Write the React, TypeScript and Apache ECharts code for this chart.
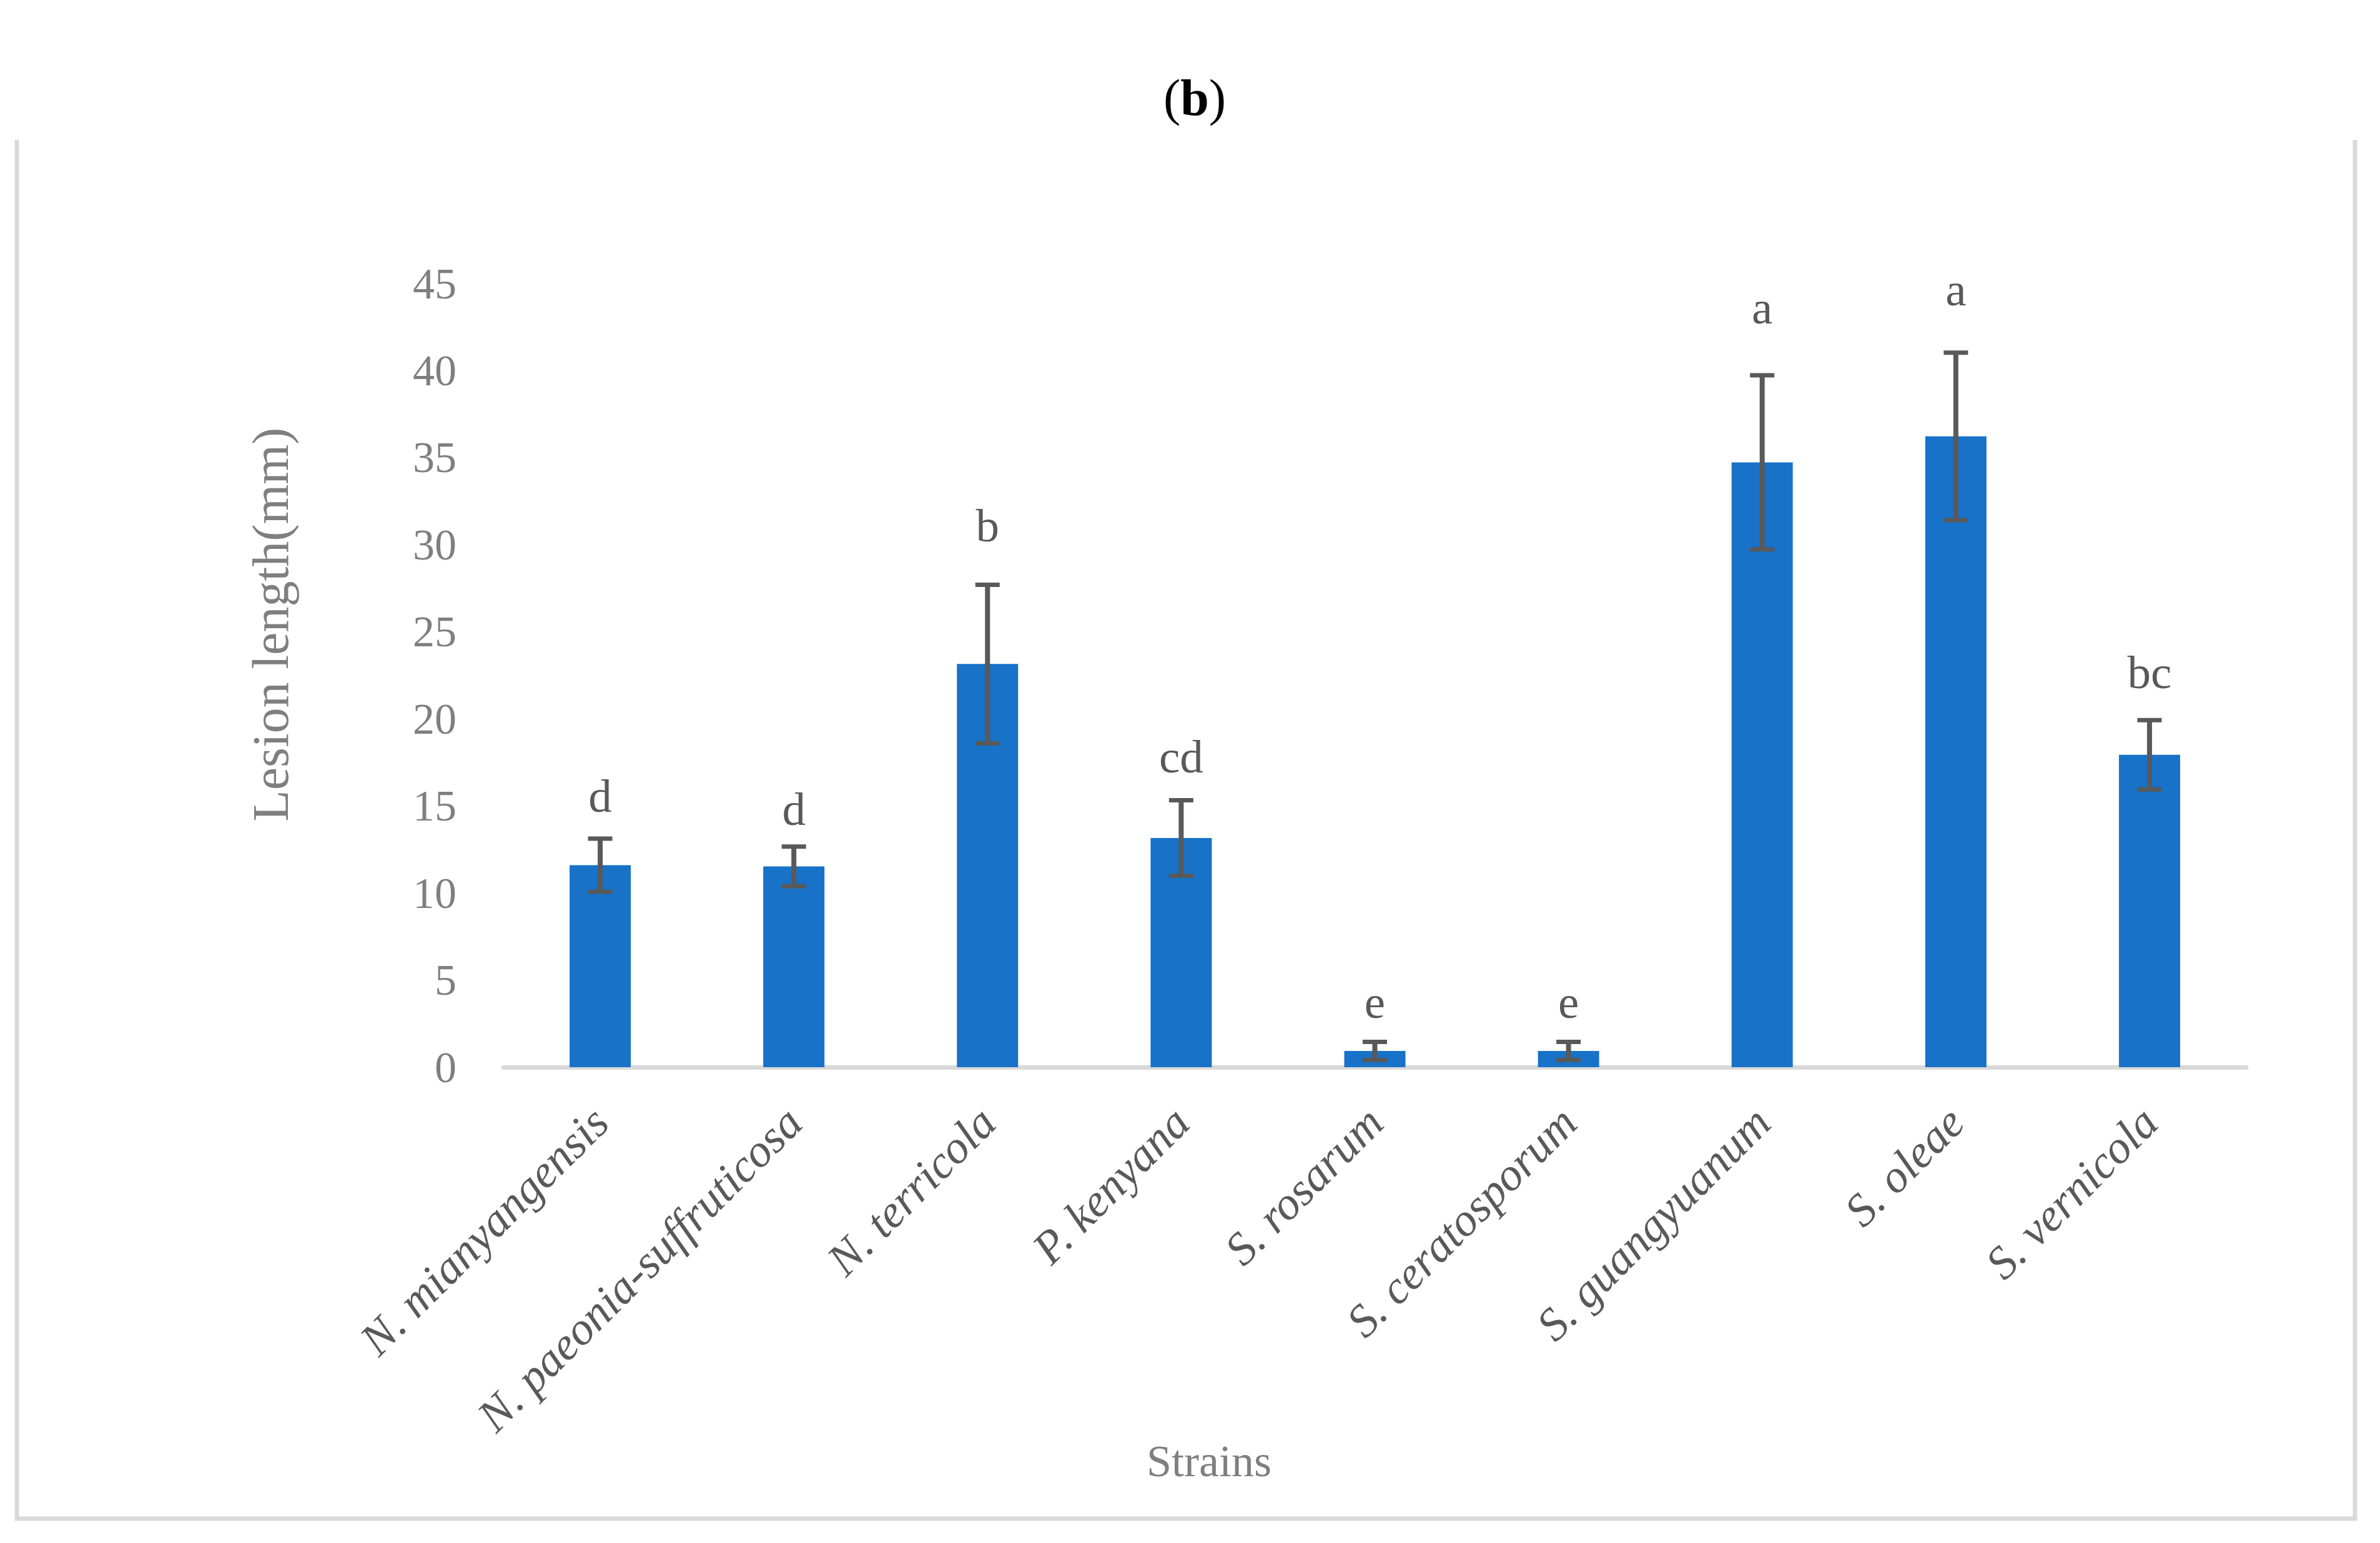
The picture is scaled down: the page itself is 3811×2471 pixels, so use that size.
import React, { useEffect, useRef } from "react";
import * as echarts from "echarts";

const categories = [
  "N. mianyangensis",
  "N. paeonia-suffruticosa",
  "N. terricola",
  "P. kenyana",
  "S. rosarum",
  "S. ceratosporum",
  "S. guangyuanum",
  "S. oleae",
  "S. vernicola",
];
const means = [11.6, 11.53, 23.15, 13.16, 0.93, 0.93, 34.73, 36.22, 17.94];
const errors = [1.52, 1.14, 4.55, 2.17, 0.52, 0.52, 5.0, 4.81, 1.99];
const letters = ["d", "d", "b", "cd", "e", "e", "a", "a", "bc"];
const letterBaseline = [14.69, 13.94, 30.21, 16.95, 2.84, 2.84, 42.71, 43.75, 21.77];
const yMin = 0;
const yMax = 45;
const yInterval = 5;

const FONT = '"Liberation Serif", "Times New Roman", serif';

export default function App() {
  const ref = useRef<HTMLDivElement>(null);
  useEffect(() => {
    document.body.style.margin = "0";
    document.body.style.overflow = "hidden";
    const chart = echarts.init(ref.current!, undefined, { renderer: "svg" });
    const errData = categories.map((c, i) => [i, means[i] - errors[i], means[i] + errors[i]]);
    const letterData = categories.map((c, i) => [i, letterBaseline[i]]);
    const option: any = {
      animation: false,
      backgroundColor: "#ffffff",
      grid: { left: 806, right: 214, top: 454, bottom: 762, containLabel: false },
      xAxis: {
        type: "category",
        data: categories,
        axisLine: { show: true, lineStyle: { color: "#d9d9d9", width: 7 } },
        axisTick: { show: false },
        splitLine: { show: false },
        axisLabel: {
          interval: 0,
          rotate: 45,
          margin: 76,
          fontFamily: FONT,
          fontStyle: "italic",
          fontSize: 74,
          color: "#595959",
        },
      },
      yAxis: {
        type: "value",
        min: yMin,
        max: yMax,
        interval: yInterval,
        axisLine: { show: false },
        axisTick: { show: false },
        splitLine: { show: false },
        axisLabel: { fontFamily: FONT, fontSize: 70, color: "#7f7f7f", margin: 75 },
      },
      series: [
        {
          type: "bar",
          data: means,
          barWidth: 98,
          itemStyle: { color: "#1772C8" },
          z: 2,
        },
        {
          type: "custom",
          data: errData,
          encode: { x: 0, y: [1, 2] },
          z: 3,
          renderItem: (params: any, api: any) => {
            const x = api.value(0);
            const lo = api.coord([x, api.value(1)]);
            const hi = api.coord([x, api.value(2)]);
            const cap = 19.5;
            const style = { stroke: "#595959", lineWidth: 7 };
            return {
              type: "group",
              children: [
                { type: "line", shape: { x1: lo[0], y1: lo[1], x2: hi[0], y2: hi[1] }, style: { ...style, lineWidth: 8 } },
                { type: "line", shape: { x1: hi[0] - cap, y1: hi[1], x2: hi[0] + cap, y2: hi[1] }, style },
                { type: "line", shape: { x1: lo[0] - cap, y1: lo[1], x2: lo[0] + cap, y2: lo[1] }, style },
              ],
            };
          },
        },
        {
          type: "custom",
          data: letterData,
          encode: { x: 0, y: 1 },
          z: 4,
          renderItem: (params: any, api: any) => {
            const p = api.coord([api.value(0), api.value(1)]);
            return {
              type: "text",
              x: p[0],
              y: p[1] - 25,
              style: {
                text: letters[params.dataIndex],
                fontFamily: FONT,
                fontSize: 75,
                fill: "#595959",
                align: "center",
                verticalAlign: "middle",
              },
            };
          },
        },
      ],
      graphic: [
        {
          type: "polyline",
          shape: { points: [[27, 224], [27, 2432], [3771, 2432], [3771, 224]] },
          style: { stroke: "#d9d9d9", lineWidth: 7, fill: "none" },
          silent: true,
        },
        {
          type: "text",
          x: 1913,
          y: 156,
          style: {
            text: "({b|b})",
            fontFamily: FONT,
            fontSize: 82,
            fill: "#000000",
            align: "center",
            verticalAlign: "middle",
            rich: { b: { fontFamily: FONT, fontSize: 82, fontWeight: "bold", fill: "#000000" } },
          },
        },
        {
          type: "text",
          x: 433,
          y: 1000,
          rotation: Math.PI / 2,
          style: {
            text: "Lesion length(mm)",
            fontFamily: FONT,
            fontSize: 82,
            fill: "#7f7f7f",
            align: "center",
            verticalAlign: "middle",
          },
        },
        {
          type: "text",
          x: 1936,
          y: 2340,
          style: {
            text: "Strains",
            fontFamily: FONT,
            fontSize: 72,
            fill: "#7f7f7f",
            align: "center",
            verticalAlign: "middle",
          },
        },
      ],
    };
    chart.setOption(option);
    return () => chart.dispose();
  }, []);
  return <div ref={ref} style={{ width: 3811, height: 2471 }} />;
}
